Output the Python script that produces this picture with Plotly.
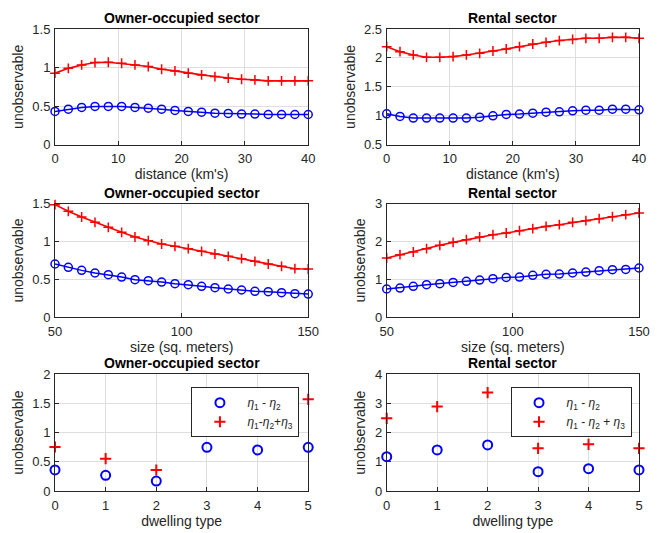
import plotly.graph_objects as go

# ---------------- data ----------------
dist = [0, 2.105, 4.211, 6.316, 8.421, 10.526, 12.632, 14.737, 16.842, 18.947,
        21.053, 23.158, 25.263, 27.368, 29.474, 31.579, 33.684, 35.789, 37.895, 40]
own_dist_blue = [0.431, 0.461, 0.483, 0.496, 0.496, 0.496, 0.483, 0.474, 0.461, 0.444,
                 0.431, 0.422, 0.409, 0.405, 0.397, 0.397, 0.392, 0.392, 0.392, 0.392]
own_dist_red = [0.927, 0.99, 1.034, 1.065, 1.069, 1.056, 1.034, 1.013, 0.978, 0.957,
                0.927, 0.905, 0.884, 0.862, 0.849, 0.84, 0.828, 0.828, 0.828, 0.828]
rent_dist_blue = [1.034, 0.989, 0.96, 0.96, 0.96, 0.96, 0.96, 0.977, 1.0, 1.023,
                  1.029, 1.046, 1.063, 1.069, 1.086, 1.098, 1.098, 1.115, 1.115, 1.103]
rent_dist_red = [2.195, 2.109, 2.052, 2.011, 2.011, 2.023, 2.052, 2.08, 2.12, 2.155,
                 2.195, 2.241, 2.27, 2.30, 2.32, 2.339, 2.339, 2.356, 2.356, 2.339]

size = [50, 55.26, 60.53, 65.79, 71.05, 76.32, 81.58, 86.84, 92.11, 97.37,
        102.63, 107.89, 113.16, 118.42, 123.68, 128.95, 134.21, 139.47, 144.74, 150]
own_size_blue = [0.704, 0.66, 0.62, 0.585, 0.563, 0.532, 0.497, 0.484, 0.466, 0.444,
                 0.431, 0.409, 0.392, 0.374, 0.361, 0.343, 0.339, 0.326, 0.312, 0.308]
own_size_red = [1.487, 1.399, 1.324, 1.254, 1.188, 1.122, 1.06, 1.012, 0.968, 0.937,
                0.906, 0.871, 0.836, 0.805, 0.774, 0.739, 0.704, 0.673, 0.642, 0.638]
rent_size_blue = [0.748, 0.774, 0.818, 0.862, 0.888, 0.923, 0.95, 0.985, 1.02, 1.055,
                  1.064, 1.108, 1.135, 1.143, 1.17, 1.196, 1.231, 1.258, 1.266, 1.302]
rent_size_red = [1.566, 1.654, 1.724, 1.812, 1.9, 1.979, 2.049, 2.12, 2.181, 2.225,
                 2.287, 2.34, 2.40, 2.445, 2.507, 2.551, 2.603, 2.656, 2.709, 2.753]

dwelling = [0, 1, 2, 3, 4, 5]
own_dw_blue = [0.36, 0.269, 0.171, 0.749, 0.703, 0.749]
own_dw_red = [0.754, 0.554, 0.36, None, None, 1.571]
rent_dw_blue = [1.177, 1.406, 1.577, 0.663, 0.766, 0.72]
rent_dw_red = [2.491, 2.891, 3.371, 1.463, 1.6, 1.463]

titles = ["Owner-occupied sector", "Rental sector"] * 3
xlabels = ["distance (km's)", "distance (km's)", "size (sq. meters)", "size (sq. meters)",
           "dwelling type", "dwelling type"]
ylabel = "unobservable"
leg_own = ["<i>η</i><sub>1</sub> - <i>η</i><sub>2</sub>",
           "<i>η</i><sub>1</sub>-<i>η</i><sub>2</sub>+<i>η</i><sub>3</sub>"]
leg_rent = ["<i>η</i><sub>1</sub> - <i>η</i><sub>2</sub>",
            "<i>η</i><sub>1</sub> - <i>η</i><sub>2</sub> + <i>η</i><sub>3</sub>"]

# ---------------- style ----------------
BLUE = "#0000ff"
RED = "#ff0000"
TXT = "#262626"
GRID = "#dedede"
FONT = "Liberation Sans, Arial, sans-serif"

xdom = [[0.0, 0.4336], [0.568, 1.0]]
ydom = [[0.7495, 1.0], [0.3758, 0.622], [0.0, 0.2527]]

xranges = [[0, 40], [0, 40], [50, 150], [50, 150], [0, 5], [0, 5]]
xticks = [[0, 10, 20, 30, 40]] * 2 + [[50, 100, 150]] * 2 + [[0, 1, 2, 3, 4, 5]] * 2
yranges = [[0, 1.5], [0.5, 2.5], [0, 1.5], [0, 3], [0, 2], [0, 4]]
yticks = [[0, 0.5, 1, 1.5], [0.5, 1, 1.5, 2, 2.5], [0, 0.5, 1, 1.5], [0, 1, 2, 3],
          [0, 0.5, 1, 1.5, 2], [0, 1, 2, 3, 4]]

fig = go.Figure()

line_sets = [
    (dist, own_dist_blue, own_dist_red),
    (dist, rent_dist_blue, rent_dist_red),
    (size, own_size_blue, own_size_red),
    (size, rent_size_blue, rent_size_red),
]
for i, (xs, b, r) in enumerate(line_sets):
    ax = "" if i == 0 else str(i + 1)
    fig.add_trace(go.Scatter(x=xs, y=r, mode="lines+markers", xaxis="x" + ax, yaxis="y" + ax,
                             line=dict(color=RED, width=1.6),
                             marker=dict(symbol="cross-thin", size=7, line=dict(color=RED, width=1.5)),
                             showlegend=False, cliponaxis=False))
    fig.add_trace(go.Scatter(x=xs, y=b, mode="lines+markers", xaxis="x" + ax, yaxis="y" + ax,
                             line=dict(color=BLUE, width=1.5),
                             marker=dict(symbol="circle-open", size=8, color=BLUE, line=dict(color=BLUE, width=1.5)),
                             showlegend=False, cliponaxis=False))

for k, (b, r, names, lg) in enumerate([(own_dw_blue, own_dw_red, leg_own, "legend"),
                                        (rent_dw_blue, rent_dw_red, leg_rent, "legend2")]):
    ax = str(5 + k)
    fig.add_trace(go.Scatter(x=dwelling, y=b, mode="markers", xaxis="x" + ax, yaxis="y" + ax,
                             name=names[0], legend=lg,
                             marker=dict(symbol="circle-open", size=9, color=BLUE, line=dict(color=BLUE, width=2)),
                             cliponaxis=False))
    fig.add_trace(go.Scatter(x=dwelling, y=r, mode="markers", xaxis="x" + ax, yaxis="y" + ax,
                             name=names[1], legend=lg,
                             marker=dict(symbol="cross-thin", size=8, color=RED, line=dict(color=RED, width=2)),
                             cliponaxis=False))

layout = dict(
    width=660, height=533,
    margin=dict(l=55, r=10, t=29, b=41),
    paper_bgcolor="white", plot_bgcolor="white",
    font=dict(family=FONT, color=TXT, size=13),
    legend=dict(x=0.2336, y=0.2246, xanchor="left", yanchor="top",
                bgcolor="white", bordercolor=TXT, borderwidth=1,
                font=dict(size=12, color=TXT), tracegroupgap=0, itemwidth=45),
    legend2=dict(x=0.78, y=0.2246, xanchor="left", yanchor="top",
                 bgcolor="white", bordercolor=TXT, borderwidth=1,
                 font=dict(size=12, color=TXT), tracegroupgap=0, itemwidth=45),
    annotations=[],
)

for i in range(6):
    row, col = i // 2, i % 2
    ax = "" if i == 0 else str(i + 1)
    layout["xaxis" + ax] = dict(
        domain=xdom[col], anchor="y" + ax, range=xranges[i], tickvals=xticks[i],
        showline=True, mirror=True, linecolor=TXT, linewidth=1,
        ticks="inside", ticklen=4, tickcolor=TXT, ticklabelstandoff=2,
        showgrid=True, gridcolor=GRID, zeroline=False,
        tickfont=dict(size=13, color=TXT),
        title=dict(text=xlabels[i], font=dict(size=14, color=TXT), standoff=1),
    )
    layout["yaxis" + ax] = dict(
        domain=ydom[row], anchor="x" + ax, range=yranges[i], tickvals=yticks[i],
        showline=True, mirror=True, linecolor=TXT, linewidth=1,
        ticks="inside", ticklen=4, tickcolor=TXT, ticklabelstandoff=1,
        showgrid=True, gridcolor=GRID, zeroline=False,
        tickfont=dict(size=13, color=TXT),
        title=dict(text=ylabel, font=dict(size=14, color=TXT), standoff=5),
    )
    layout["annotations"].append(dict(
        text="<b>" + titles[i] + "</b>", xref="paper", yref="paper",
        x=(xdom[col][0] + xdom[col][1]) / 2, y=ydom[row][1],
        xanchor="center", yanchor="bottom", yshift=1, showarrow=False,
        font=dict(size=14, color="#000000", family=FONT),
    ))

fig.update_layout(**layout)
fig.write_html("out.html")
